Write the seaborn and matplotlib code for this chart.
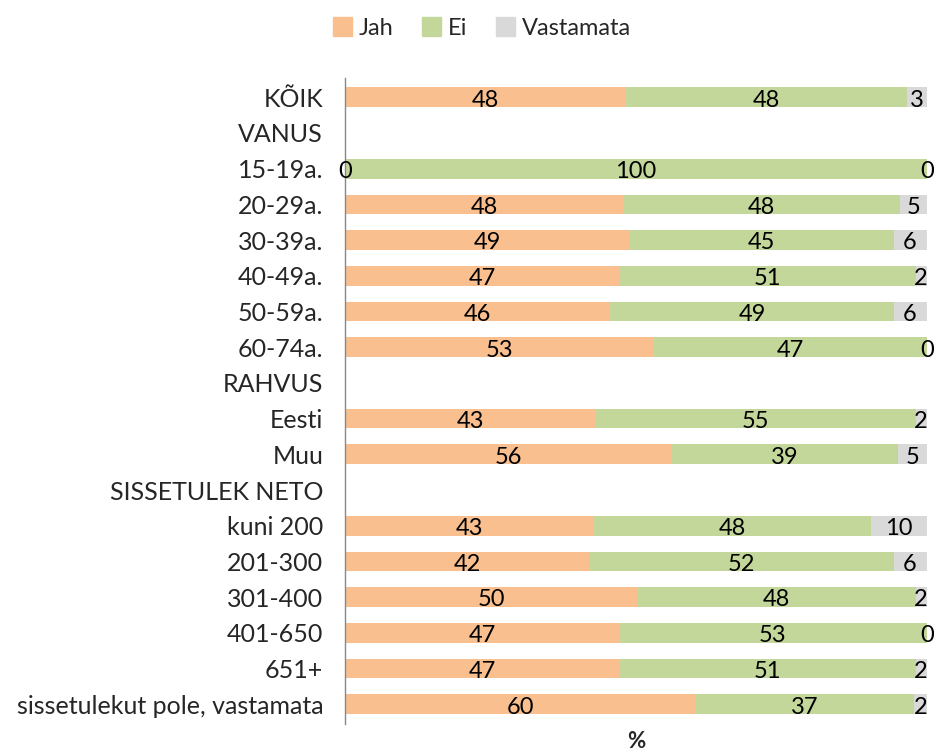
import numpy as np
import pandas as pd
import matplotlib
matplotlib.use("Agg")
import matplotlib.pyplot as plt
import seaborn as sns

# rows top-to-bottom; header rows carry no values
categories = ["KÕIK", "VANUS", "15-19a.", "20-29a.", "30-39a.", "40-49a.", "50-59a.",
              "60-74a.", "RAHVUS", "Eesti", "Muu", "SISSETULEK NETO", "kuni 200",
              "201-300", "301-400", "401-650", "651+", "sissetulekut pole, vastamata"]
nan = np.nan
jah = [48.3, nan, 0.0, 47.7, 49.0, 47.1, 45.6, 53.1, nan, 43.0, 56.2, nan,
       42.8, 42.1, 50.2, 47.1, 47.1, 60.4]
ei = [48.4, nan, 100.0, 47.7, 45.3, 51.0, 48.7, 46.9, nan, 55.1, 38.8, nan,
      47.6, 52.2, 47.9, 52.9, 51.0, 37.4]
vastamata = [3.3, nan, 0.0, 4.6, 5.7, 1.9, 5.7, 0.0, nan, 1.9, 5.0, nan,
             9.6, 5.7, 1.9, 0.0, 1.9, 2.2]
series_names = ["Jah", "Ei", "Vastamata"]
colors = ["#F9BF8F", "#C4D79B", "#D9D9D9"]

sns.set_style("white")
plt.rcParams["font.family"] = ["Lato", "DejaVu Sans"]
FS = 17

df = pd.DataFrame({"cat": categories, "Jah": jah, "Ei": ei, "Vastamata": vastamata})
df["c1"] = df["Jah"]
df["c2"] = df["Jah"] + df["Ei"]
df["c3"] = df["c2"] + df["Vastamata"]

fig = plt.figure(figsize=(9.36, 7.54), dpi=100)
ax = fig.add_axes([0.369, 0.040, 0.621, 0.857])

# overlapping cumulative bars give the stacked look
for col, color in zip(["c3", "c2", "c1"], colors[::-1]):
    sns.barplot(data=df, y="cat", x=col, order=categories, color=color,
                orient="h", width=0.55, ax=ax, saturation=1, linewidth=0,
                errorbar=None)

# value labels centred in each segment
for i, row in df.iterrows():
    if np.isnan(row["Jah"]):
        continue
    start = 0.0
    for name in series_names:
        v = row[name]
        ax.text(start + v / 2, i + 0.08, f"{v:.0f}", ha="center", va="center",
                fontsize=FS, color="black", clip_on=False)
        start += v

ax.set_xlim(0, 100)
ax.set_ylim(len(categories) - 0.45, -0.55)
ax.set_xticks([])
ax.set_ylabel("")
ax.set_xlabel("%", fontsize=FS - 1, fontweight="bold", labelpad=5)
ax.tick_params(axis="y", length=0, labelsize=FS + 1, pad=16)
for s in ["top", "right", "bottom"]:
    ax.spines[s].set_visible(False)
ax.spines["left"].set_color("#888888")
ax.spines["left"].set_linewidth(1)

handles = [plt.Rectangle((0, 0), 1, 1, color=c) for c in colors]
fig.legend(handles, series_names, loc="upper center", bbox_to_anchor=(0.515, 1.005),
           ncol=3, frameon=False, fontsize=FS, handlelength=0.8, handleheight=0.8,
           handletextpad=0.3, columnspacing=1.2)

fig.savefig("out.png", dpi=100)
